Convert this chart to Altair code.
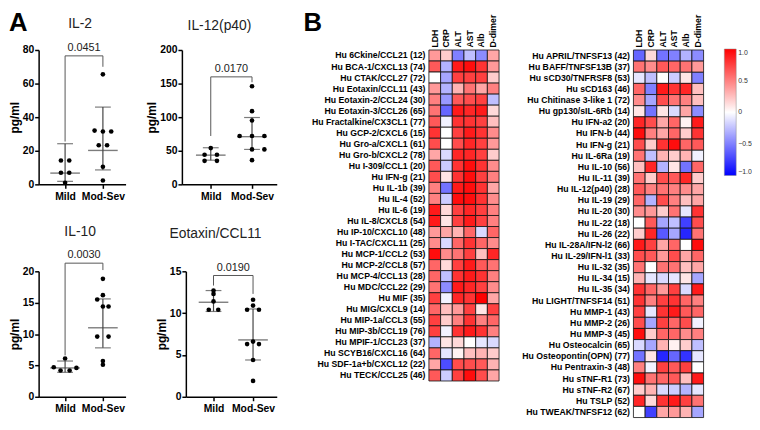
import altair as alt
import pandas as pd

FONT = "Liberation Sans"

# ---------------- Panel A data ----------------
il2_mild = [14.2, 14.2, 6.9, 6.9, 0.9]
il2_mild_off = [-0.11, 0.11, -0.11, 0.11, 0.0]
il2_sev = [65.5, 32.0, 31.5, 31.5, 23.3, 23.3, 10.5, 2.3]
il2_sev_off = [0.0, -0.22, 0.0, 0.22, -0.11, 0.11, 0.0, 0.0]
il2_summary = [[6.7, 1.8, 24.2], [20.2, 8.6, 46.0]]  # center, low, high
il2_bracket = [76.5, 25.5, 70.0]  # top, left leg end, right leg end

il12_mild = [54.0, 44.0, 44.0, 35.0, 35.0]
il12_mild_off = [0.0, -0.15, 0.15, -0.15, 0.15]
il12_sev = [146.0, 109.0, 95.0, 72.0, 72.0, 72.0, 52.0, 52.0, 36.0]
il12_sev_off = [0.0, 0.0, 0.0, -0.3, 0.0, 0.3, 0.0, 0.3, 0.0]
il12_summary = [[43.5, 36.0, 54.5], [71.0, 52.0, 99.5]]
il12_bracket = [160.0, 72.0, 152.0]

il10_mild = [6.1, 4.7, 4.6, 4.2, 4.2]
il10_mild_off = [0.0, -0.3, 0.3, -0.12, 0.12]
il10_sev = [18.8, 16.2, 15.5, 14.4, 14.4, 9.6, 9.6, 5.7, 5.1]
il10_sev_off = [0.0, 0.0, -0.15, 0.0, 0.15, -0.15, 0.15, 0.0, 0.0]
il10_summary = [[4.6, 3.9, 5.7], [11.0, 7.8, 15.6]]
il10_bracket = [21.3, 6.6, 20.2]

eot_mild = [12.7, 12.3, 11.4, 10.4, 10.4]
eot_mild_off = [0.0, 0.0, 0.0, -0.12, 0.12]
eot_sev = [11.6, 10.9, 10.4, 10.4, 6.6, 6.3, 6.3, 4.4, 1.9]
eot_sev_off = [0.0, 0.0, -0.15, 0.15, 0.0, -0.15, 0.15, 0.0, 0.0]
eot_summary = [[11.3, 10.2, 12.7], [6.8, 4.4, 10.5]]
eot_bracket = [14.5, 13.3, 12.3]

pvalues = ["0.0451", "0.0170", "0.0030", "0.0190"]
titles = ["IL-2", "IL-12(p40)", "IL-10", "Eotaxin/CCL11"]

# ---------------- Panel B data ----------------
heat_cols = ["LDH", "CRP", "ALT", "AST", "Alb", "D-dimer"]

left_rows = [
    "Hu 6Ckine/CCL21 (12)", "Hu BCA-1/CXCL13 (74)", "Hu CTAK/CCL27 (72)",
    "Hu Eotaxin/CCL11 (43)", "Hu Eotaxin-2/CCL24 (30)", "Hu Eotaxin-3/CCL26 (65)",
    "Hu Fractalkine/CX3CL1 (77)", "Hu GCP-2/CXCL6 (15)", "Hu Gro-a/CXCL1 (61)",
    "Hu Gro-b/CXCL2 (78)", "Hu I-309/CCL1 (20)", "Hu IFN-g (21)", "Hu IL-1b (39)",
    "Hu IL-4 (52)", "Hu IL-6 (19)", "Hu IL-8/CXCL8 (54)", "Hu IP-10/CXCL10 (48)",
    "Hu I-TAC/CXCL11 (25)", "Hu MCP-1/CCL2 (53)", "Hu MCP-2/CCL8 (57)",
    "Hu MCP-4/CCL13 (28)", "Hu MDC/CCL22 (29)", "Hu MIF (35)", "Hu MIG/CXCL9 (14)",
    "Hu MIP-1a/CCL3 (55)", "Hu MIP-3b/CCL19 (76)", "Hu MPIF-1/CCL23 (37)",
    "Hu SCYB16/CXCL16 (64)", "Hu SDF-1a+b/CXCL12 (22)", "Hu TECK/CCL25 (46)",
]
left_vals = [
    [0.40, 0.20, -0.50, -0.25, -0.45, 0.35],
    [0.65, -0.30, 0.90, 0.95, 0.80, 0.40],
    [0.00, -0.35, 0.75, 0.75, 0.75, 0.20],
    [0.40, -0.30, 0.30, 0.55, 0.35, 0.50],
    [0.50, -0.40, 0.65, 0.70, 0.75, -0.25],
    [0.55, -0.60, 0.90, 0.85, 0.90, 0.15],
    [0.65, -0.05, 0.80, 0.80, 0.75, 0.25],
    [0.80, 0.00, 0.75, 0.90, 0.80, 0.45],
    [0.70, 0.00, 0.70, 0.85, 0.75, 0.40],
    [0.35, -0.15, 0.85, 0.85, 0.75, 0.20],
    [0.65, -0.20, 0.80, 0.95, 0.80, 0.45],
    [0.70, 0.10, 0.80, 0.95, 0.75, 0.50],
    [0.50, -0.55, 0.90, 0.95, 0.80, 0.35],
    [0.50, -0.20, 0.95, 0.95, 0.80, 0.45],
    [0.90, 0.15, 0.75, 0.85, 0.75, 0.50],
    [0.90, 0.10, 0.75, 0.90, 0.75, 0.50],
    [0.40, 0.35, 0.30, 0.60, -0.15, 0.60],
    [0.45, -0.15, 0.60, 0.80, 0.60, 0.45],
    [0.95, 0.45, 0.55, 0.75, 0.25, 0.85],
    [0.60, 0.15, 0.75, 0.90, 0.65, 0.55],
    [0.60, -0.25, 0.80, 0.90, 0.80, 0.50],
    [0.55, -0.45, 0.90, 0.85, 0.75, 0.45],
    [0.75, -0.05, 0.85, 0.80, 1.00, 0.35],
    [0.60, 0.25, 0.40, 0.75, 0.10, 0.75],
    [0.75, 0.20, 0.50, 0.80, 0.50, 0.60],
    [0.75, -0.05, 0.80, 0.90, 0.80, 0.50],
    [-0.30, 0.10, 0.15, 0.00, -0.10, -0.15],
    [0.60, -0.10, 0.05, 0.25, 0.30, 0.20],
    [0.35, -0.70, 0.70, 0.70, 0.65, 0.30],
    [0.65, -0.20, 0.75, 0.95, 0.70, 0.35],
]

right_rows = [
    "Hu APRIL/TNFSF13 (42)", "Hu BAFF/TNFSF13B (37)", "Hu sCD30/TNFRSF8 (53)",
    "Hu sCD163 (46)", "Hu Chitinase 3-like 1 (72)", "Hu gp130/sIL-6Rb (14)",
    "Hu IFN-a2 (20)", "Hu IFN-b (44)", "Hu IFN-g (21) ", "Hu IL-6Ra (19)",
    "Hu IL-10 (56)", "Hu IL-11 (39)", "Hu IL-12(p40) (28)", "Hu IL-19 (29)",
    "Hu IL-20 (30)", "Hu IL-22 (18)", "Hu IL-26 (22)", "Hu IL-28A/IFN-l2 (66)",
    "Hu IL-29/IFN-l1 (33)", "Hu IL-32 (35)", "Hu IL-34 (15)", "Hu IL-35 (34)",
    "Hu LIGHT/TNFSF14 (51)", "Hu MMP-1 (43)", "Hu MMP-2 (26)", "Hu MMP-3 (45)",
    "Hu Osteocalcin (65)", "Hu Osteopontin(OPN) (77)", "Hu Pentraxin-3 (48)",
    "Hu sTNF-R1 (73)", "Hu sTNF-R2 (67)", "Hu TSLP (52)", "Hu TWEAK/TNFSF12 (62)",
]
right_vals = [
    [-0.60, 0.15, -0.55, -0.50, -0.30, -0.45],
    [0.55, 0.45, 0.65, 0.60, 0.55, 0.40],
    [-0.10, -0.25, 0.00, -0.20, 0.10, -0.50],
    [0.60, -0.50, 0.90, 0.80, 0.85, 0.25],
    [0.45, -0.35, 0.70, 0.55, 0.50, 0.25],
    [0.10, -0.55, 0.10, -0.15, 0.35, -0.45],
    [0.85, 0.70, 0.35, 0.60, 0.05, 0.90],
    [0.95, 0.50, 0.35, 0.60, 0.20, 0.80],
    [0.70, 0.20, 0.80, 0.95, 0.60, 0.65],
    [0.55, -0.25, 0.30, 0.20, 0.30, -0.05],
    [0.25, 0.85, -0.30, 0.10, -0.55, 0.60],
    [0.55, 0.20, 0.70, 0.65, 0.85, 0.20],
    [0.65, 0.50, 0.55, 0.50, 0.45, 0.35],
    [0.60, -0.30, 0.70, 0.50, 0.25, 0.35],
    [0.45, 0.40, 0.20, 0.55, -0.10, 0.80],
    [0.00, 0.65, -0.35, -0.25, -0.75, 0.70],
    [0.20, 0.85, -0.65, -0.35, -0.85, 0.55],
    [0.90, 0.75, 0.35, 0.60, 0.00, 0.95],
    [0.70, 0.65, 0.40, 0.70, 0.35, 0.60],
    [0.55, 0.00, 0.55, 0.55, 0.25, 0.35],
    [0.30, -0.10, -0.15, -0.10, 0.10, -0.35],
    [0.80, 0.60, 0.40, 0.75, -0.15, 0.90],
    [0.80, 0.50, 0.75, 0.80, 0.60, 0.50],
    [0.75, -0.10, 0.80, 0.90, 0.65, 0.60],
    [0.70, -0.35, 0.75, 0.60, 0.70, -0.05],
    [0.95, 0.20, 0.60, 0.60, 0.45, 0.50],
    [-0.15, -0.35, 0.30, 0.05, 0.20, -0.25],
    [-0.55, 0.10, -0.85, -0.60, -0.80, -0.10],
    [0.50, -0.05, 0.75, 0.65, 0.75, 0.00],
    [0.95, 0.55, 0.60, 0.65, 0.25, 0.90],
    [0.20, 0.30, -0.15, -0.20, -0.30, -0.10],
    [0.85, 0.15, 0.80, 0.90, 0.75, 0.55],
    [0.00, -0.75, 0.35, 0.40, 0.30, -0.35],
]
legend_values = [-1.0, -0.5, 0.0, 0.5, 1.0]


def scatter(title, ymax, ystep, mild, mild_off, sev, sev_off, summary, bracket,
            pval, width, height, title_x, title_y, letter=None):
    dots = pd.DataFrame({
        "pos": [1 + o for o in mild_off] + [2 + o for o in sev_off],
        "val": mild + sev,
    })
    summ = pd.DataFrame({
        "pos": [1, 2],
        "val": [summary[0][0], summary[1][0]],
        "low": [summary[0][1], summary[1][1]],
        "high": [summary[0][2], summary[1][2]],
    })
    br = pd.DataFrame({
        "pos": [1, 1, 2, 2],
        "val": [bracket[1], bracket[0], bracket[0], bracket[2]],
        "order": [0, 1, 2, 3],
    })
    ptxt = pd.DataFrame({"pos": [1.5], "val": [bracket[0]], "label": [pval]})

    xs = alt.Scale(domain=[0.3, 2.6], nice=False, zero=False)
    ys = alt.Scale(domain=[0, ymax], nice=False)
    xax = alt.Axis(values=[1, 2], labelExpr="datum.value == 1 ? 'Mild' : 'Mod-Sev'",
                   title=None, grid=False, domainColor="black", domainWidth=1.5,
                   tickColor="black", tickWidth=1.5, tickSize=4, labelFontSize=10.5,
                   labelFontWeight="bold", labelColor="black", labelPadding=3,
                   labelFlush=False)
    yax = alt.Axis(values=list(range(0, ymax + 1, ystep)), title="pg/ml", grid=False,
                   domainColor="black", domainWidth=1.5, tickColor="black",
                   tickWidth=1.5, tickSize=4, labelFontSize=10.5, labelFontWeight="bold",
                   labelColor="black", labelPadding=1, titleFontSize=12,
                   titleFontWeight="bold", titleColor="black", titlePadding=1)
    X = alt.X("pos:Q", scale=xs, axis=xax)
    Y = alt.Y("val:Q", scale=ys, axis=yax)

    pts = alt.Chart(dots).mark_circle(size=22, color="black", opacity=1).encode(x=X, y=Y)
    vline = alt.Chart(summ).mark_rule(color="#444", strokeWidth=1.2).encode(
        x=X, y=alt.Y("low:Q", scale=ys, axis=yax), y2="high:Q")
    center = alt.Chart(summ).mark_tick(orient="horizontal", color="#444", size=30,
                                       thickness=1.4).encode(x=X, y=Y)
    cap_lo = alt.Chart(summ).mark_tick(orient="horizontal", color="#444", size=16,
                                       thickness=1.2).encode(x=X, y=alt.Y("low:Q", scale=ys, axis=yax))
    cap_hi = alt.Chart(summ).mark_tick(orient="horizontal", color="#444", size=16,
                                       thickness=1.2).encode(x=X, y=alt.Y("high:Q", scale=ys, axis=yax))
    brk = alt.Chart(br).mark_line(color="#555", strokeWidth=1).encode(
        x=X, y=Y, order="order:Q")
    ptext = alt.Chart(ptxt).mark_text(baseline="bottom", dy=-3, fontSize=11,
                                      color="#222", font=FONT).encode(x=X, y=Y, text="label:N")
    ttl = alt.Chart(pd.DataFrame({"t": [title]})).mark_text(
        fontSize=14, fontWeight="normal", align="center", baseline="middle",
        color="#222", font=FONT).encode(text="t:N", x=alt.value(title_x), y=alt.value(title_y))
    layers = [vline, center, cap_lo, cap_hi, pts, brk, ptext, ttl]
    if letter is not None:
        lt = alt.Chart(pd.DataFrame({"t": [letter]})).mark_text(
            fontSize=26, fontWeight="bold", align="left", baseline="top",
            color="black", font=FONT).encode(text="t:N", x=alt.value(-30), y=alt.value(-40))
        layers.append(lt)
    return alt.layer(*layers).properties(width=width, height=height)


def heat(rows, vals, height, legend, label_size, letter=None):
    recs = []
    for r, row in zip(rows, vals):
        for c, v in zip(heat_cols, row):
            recs.append({"row": r, "col": c, "value": v})
    df = pd.DataFrame(recs)
    color = alt.Color("value:Q",
                      scale=alt.Scale(domain=[-1, 0, 1],
                                      range=["#0000ff", "#ffffff", "#ff0000"],
                                      interpolate="rgb"),
                      legend=legend)
    rect = alt.Chart(df).mark_rect(stroke="#111", strokeWidth=0.8).encode(
        x=alt.X("col:N", sort=heat_cols, title=None,
                axis=alt.Axis(orient="top", labelAngle=-90, labelFontSize=label_size,
                              labelFontWeight="bold", labelColor="black", ticks=False,
                              domain=False, labelPadding=3)),
        y=alt.Y("row:N", sort=rows, title=None,
                axis=alt.Axis(labelFontSize=label_size, labelFontWeight="bold",
                              labelColor="black", ticks=False, domain=False,
                              labelPadding=4, labelLimit=300)),
        color=color,
    )
    layers = [rect]
    if letter is not None:
        lt = alt.Chart(pd.DataFrame({"t": [letter]})).mark_text(
            fontSize=26, fontWeight="bold", align="left", baseline="top",
            color="black", font=FONT).encode(text="t:N", x=alt.value(-127), y=alt.value(-40))
        layers.append(lt)
    return alt.layer(*layers).properties(width=71, height=height)


il2 = scatter(titles[0], 80, 20, il2_mild, il2_mild_off, il2_sev, il2_sev_off,
              il2_summary, il2_bracket, pvalues[0], 88, 136, 42, -26, letter="A")
il12 = scatter(titles[1], 200, 50, il12_mild, il12_mild_off, il12_sev, il12_sev_off,
               il12_summary, il12_bracket, pvalues[1], 96, 136, 38, -24)
il10 = scatter(titles[2], 20, 5, il10_mild, il10_mild_off, il10_sev, il10_sev_off,
               il10_summary, il10_bracket, pvalues[2], 88, 127, 42, -40)
eot = scatter(titles[3], 15, 5, eot_mild, eot_mild_off, eot_sev, eot_sev_off,
              eot_summary, eot_bracket, pvalues[3], 92, 127, 30, -38)

panel_a = alt.vconcat(
    alt.hconcat(il2, il12, spacing=20),
    alt.hconcat(il10, eot, spacing=30),
    spacing=23,
)

legend = alt.Legend(orient="none", legendX=92, legendY=-1, direction="vertical",
                    gradientLength=128, gradientThickness=12, title=None,
                    values=legend_values,
                    labelExpr="datum.value == 0 ? '0' : format(datum.value, '.1f')",
                    labelFontSize=7, labelColor="#333", labelOffset=2,
                    gradientStrokeColor="#888", gradientStrokeWidth=0.5)

heat_l = heat(left_rows, left_vals, 335, None, 8.8, letter="B")
heat_r = heat(right_rows, right_vals, 372, legend, 8.8)
panel_b = alt.hconcat(heat_l, heat_r, spacing=22).resolve_scale(color="independent")

chart = alt.hconcat(panel_a, panel_b, spacing=27).properties(padding=0).configure(
    font=FONT).configure_view(stroke=None)

chart.save("out.html", embed_options={"renderer": "svg", "actions": False})
